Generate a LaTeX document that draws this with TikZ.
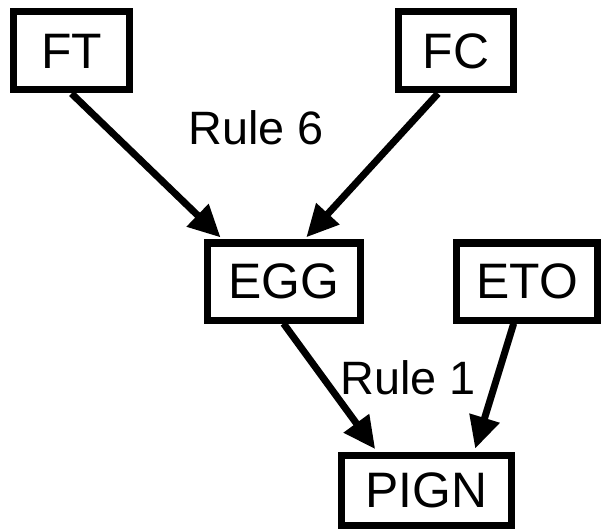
\documentclass[tikz,border=0pt]{standalone}
\usepackage{fontspec}
\setmainfont{Liberation Sans}
\usetikzlibrary{arrows.meta,calc}
\begin{document}
\begin{tikzpicture}[x=1bp,y=-1bp,
  box/.style={draw,line width=7bp,inner sep=0pt,font=\fontsize{50}{52}\selectfont},
  conn/.style={line width=7bp,-{Triangle[length=32bp,width=30bp]},shorten >=3bp},
  lab/.style={font=\fontsize{47}{50}\selectfont,inner sep=0pt}]
\useasboundingbox (0,0) rectangle (603,532);
\node[box,minimum width=116bp,minimum height=78bp] (FT) at (71.5,51) {FT};
\node[box,minimum width=115bp,minimum height=78bp] (FC) at (456,51) {FC};
\node[box,minimum width=153bp,minimum height=77bp] (EGG) at (283.5,281.5) {EGG};
\node[box,minimum width=141bp,minimum height=77bp] (ETO) at (527,281.5) {ETO};
\node[box,minimum width=170bp,minimum height=70bp] (PIGN) at (426.5,490) {PIGN};
\node[lab] (r6) at (256,128) {Rule 6};
\node[lab] (r1) at (408,378) {Rule 1};
\draw[conn] (FT.south) -- ($(EGG.north west)!0.12!(EGG.north east)$);
\draw[conn] ($(FC.south)+(-18,0)$) -- ($(EGG.north west)!0.63!(EGG.north east)$);
\draw[conn] (EGG.south) -- ($(PIGN.north west)!0.22!(PIGN.north east)$);
\draw[conn] ($(ETO.south west)!0.41!(ETO.south east)$) -- ($(PIGN.north west)!0.77!(PIGN.north east)$);
\end{tikzpicture}
\end{document}
